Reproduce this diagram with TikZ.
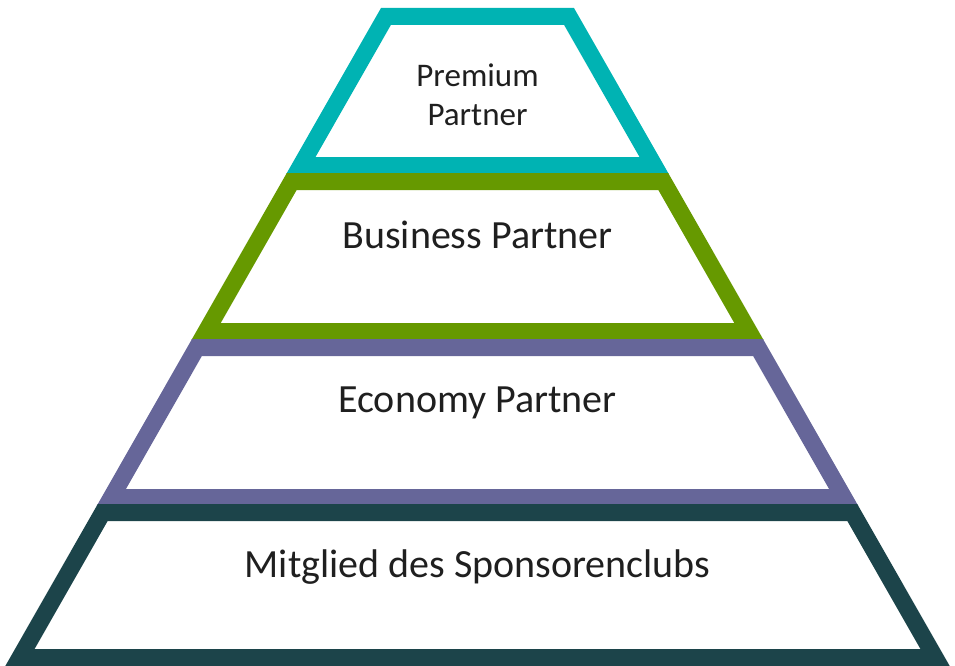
\documentclass[tikz,border=0pt]{standalone}
\usepackage{fontspec}
\setmainfont{Carlito}
\usepackage{tikz}
\usetikzlibrary{positioning,calc}
\definecolor{premiumcol}{HTML}{00B3B3}
\definecolor{businesscol}{HTML}{669900}
\definecolor{economycol}{HTML}{666699}
\definecolor{membercol}{HTML}{1C444A}
\tikzset{
  level band/.style={
    line width=17pt,
    line join=miter
  },
  level label/.style={
    anchor=base,
    inner sep=0pt,
    text=black!88,
    font=\fontsize{40}{48}\selectfont
  },
  small label/.style={
    level label,
    font=\fontsize{33}{40}\selectfont
  }
}

\begin{document}
\begin{tikzpicture} [x=1pt, y=-1pt]
   \useasboundingbox (0,0) rectangle (955,666);

   % the four levels, from the top down
   \foreach \col/\yt/\yb in {premiumcol/16.5/165.5, businesscol/181.5/331.5,
                             economycol/347.5/497.5, membercol/512.5/657.5}
     \draw[level band, draw=\col]
        ({477.5-(86.7+0.571*(\yt-8))},\yt) -- ({477.5+(86.7+0.571*(\yt-8))},\yt)
     -- ({477.5+(86.7+0.571*(\yb-8))},\yb) -- ({477.5-(86.7+0.571*(\yb-8))},\yb)
     -- cycle;

   \node[small label] (premium) at (477.5,87) {Premium};
   \node[small label] (partner) at (477.5,125) {Partner};
   \node[level label] (business) at (477.5,248) {Business Partner};
   \node[level label] (economy) at (477.5,412) {Economy Partner};
   \node[level label] (member) at (477.5,577) {Mitglied des Sponsorenclubs};
\end{tikzpicture}
\end{document}
